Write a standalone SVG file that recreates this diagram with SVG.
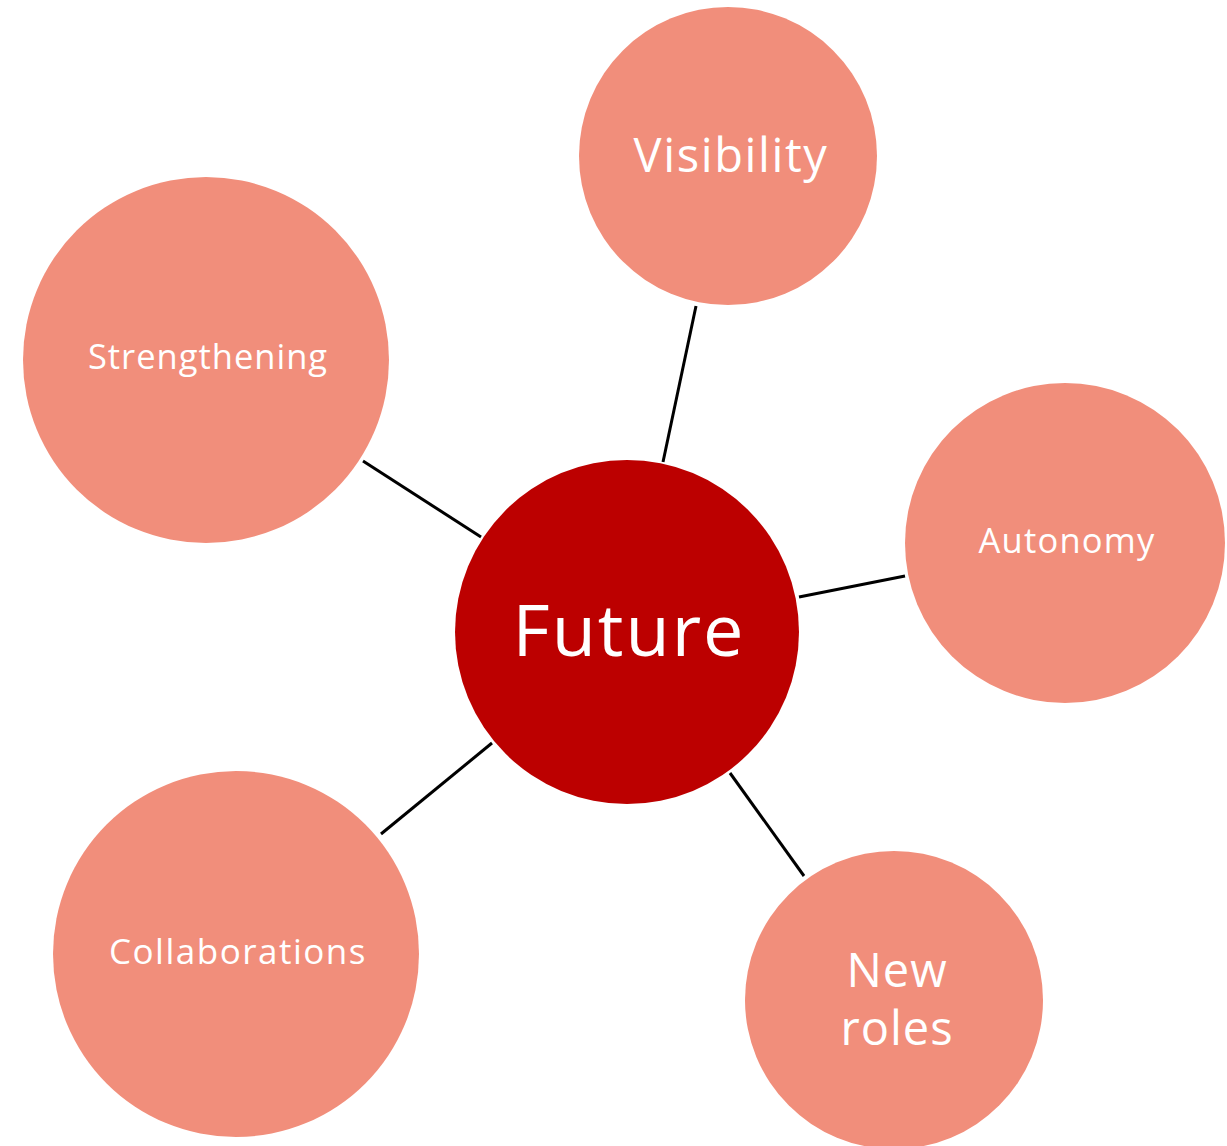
<svg xmlns="http://www.w3.org/2000/svg" width="1227" height="1146" viewBox="0 0 1227 1146">
<style>
.sat{fill:#F18E7B}
.hub{fill:#BC0000}
.t{fill:#fff;font-family:"Open Sans","Noto Sans",sans-serif;text-anchor:middle}
.c{stroke:#000;stroke-width:3;fill:none}
</style>
<rect width="1227" height="1146" fill="#fff"/>
<g id="connectors">
<line class="c" x1="696" y1="306" x2="663" y2="462"/>
<line class="c" x1="363" y1="461" x2="481" y2="537"/>
<line class="c" x1="905" y1="576" x2="799" y2="597"/>
<line class="c" x1="492" y1="743" x2="381" y2="834"/>
<line class="c" x1="730" y1="773" x2="804" y2="876"/>
</g>
<g id="future">
<circle class="hub" cx="627" cy="632" r="172"/>
<text class="t" x="629" y="656" font-size="72" letter-spacing="2">Future</text>
</g>
<g id="visibility">
<circle class="sat" cx="728" cy="156" r="149"/>
<text class="t" x="731" y="172" font-size="47" letter-spacing="1.6">Visibility</text>
</g>
<g id="strengthening">
<circle class="sat" cx="206" cy="360" r="183"/>
<text class="t" x="208" y="369" font-size="34.5" letter-spacing="1">Strengthening</text>
</g>
<g id="autonomy">
<circle class="sat" cx="1065" cy="543" r="160"/>
<text class="t" x="1067" y="553" font-size="34.5" letter-spacing="1.2">Autonomy</text>
</g>
<g id="collaborations">
<circle class="sat" cx="236" cy="954" r="183"/>
<text class="t" x="238" y="964" font-size="35" letter-spacing="1.5">Collaborations</text>
</g>
<g id="new-roles">
<circle class="sat" cx="894" cy="1000" r="149"/>
<text class="t" x="897" y="987" font-size="47" letter-spacing="1">New</text>
<text class="t" x="897" y="1045" font-size="47" letter-spacing="1">roles</text>
</g>
</svg>
